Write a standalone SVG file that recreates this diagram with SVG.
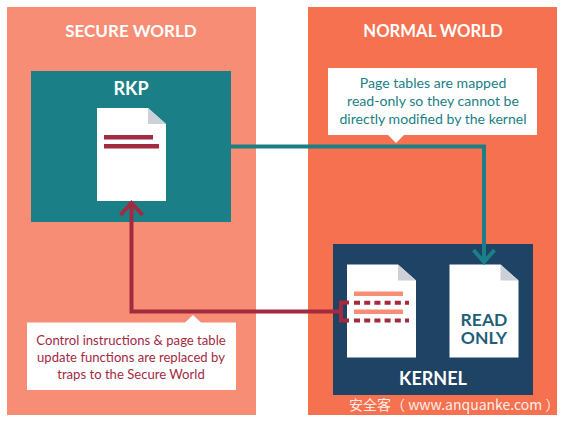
<svg xmlns="http://www.w3.org/2000/svg" width="565" height="424" viewBox="0 0 565 424">
<style>
.h{font-family:"Lato","Open Sans",sans-serif;font-weight:700;fill:#fff;text-anchor:middle}
.c{font-family:"Lato","Open Sans",sans-serif;text-anchor:middle}
.conn{fill:none;stroke-linejoin:miter}
.page{fill:#fff}.fold{fill:#cdd0d9}
</style>
<defs>
<g id="doc"><path class="page" d="M0 0H51L69 16V93H0Z"/><path class="fold" d="M51 0L69 16H51Z"/></g>
</defs>
<rect width="565" height="424" fill="#fff"/>
<g id="secure-world"><rect x="7" y="7" width="249" height="408" fill="#f68d74"/><text class="h" x="131" y="37" font-size="17">SECURE WORLD</text></g>
<g id="normal-world"><rect x="308" y="7" width="249" height="408" fill="#f6714f"/><text class="h" x="433" y="37" font-size="16.700">NORMAL WORLD</text></g>
<g id="rkp"><rect x="31" y="71" width="200" height="151" fill="#1a7f86"/><text class="h" x="131" y="94.500" font-size="18">RKP</text>
<use href="#doc" x="97" y="108"/><rect x="104" y="135" width="49" height="4.500" fill="#a32a3f"/><rect x="104" y="144" width="55" height="4.500" fill="#a32a3f"/></g>
<g id="kernel"><rect x="333" y="244" width="200" height="151" fill="#1f4365"/><text class="h" x="433" y="385" font-size="18">KERNEL</text>
<use href="#doc" x="347" y="264.500"/><use href="#doc" x="449.500" y="264.500"/>
<rect x="354" y="291.500" width="49" height="4.500" fill="#f68d74"/><rect x="354" y="309.500" width="49" height="4.500" fill="#f68d74"/>
<text font-size="17.500" text-anchor="middle" font-family="Lato,sans-serif" font-weight="700" fill="#1f5f78"><tspan x="484" y="326">READ</tspan><tspan x="484" y="344">ONLY</tspan></text></g>
<g id="connectors">
<path class="conn" d="M231 146.500H484V262" stroke="#1a7f86" stroke-width="4"/>
<path class="conn" d="M473.500 250L484 262L494.500 250" stroke="#1a7f86" stroke-width="4"/>
<path class="conn" d="M340 311.500H131.500V204" stroke="#a32a3f" stroke-width="4"/>
<path class="conn" d="M120.500 215L131.500 203L142.500 215" stroke="#a32a3f" stroke-width="4"/>
<path class="conn" d="M349 302.500H341V320.500H349" stroke="#a32a3f" stroke-width="4"/>
<path class="conn" d="M354 302.700H409M354 320.500H409" stroke="#a32a3f" stroke-width="4" stroke-dasharray="6 4.200"/>
</g>
<g id="note-top"><path d="M328 68H537V135H404L396 143L388 135H328Z" fill="#fff"/>
<text class="c" fill="#1a7f86" font-size="14.100"><tspan x="433" y="87.500">Page tables are mapped</tspan><tspan x="433" y="105.500">read-only so they cannot be</tspan><tspan x="433" y="123.500">directly modified by the kernel</tspan></text></g>
<g id="note-bottom"><path d="M27 322.500H185L193 315L201 322.500H236V390H27Z" fill="#fff"/>
<text class="c" fill="#a32a3f" font-size="13.100"><tspan x="131" y="345">Control instructions &amp; page table</tspan><tspan x="131" y="362">update functions are replaced by</tspan><tspan x="131" y="378.500">traps to the Secure World</tspan></text></g>
<text id="watermark" x="349" y="410" font-size="14" fill="#fff" fill-opacity=".9" font-family="'Noto Sans CJK SC','Liberation Sans',sans-serif">安全客（ www.anquanke.com ）</text>
</svg>
